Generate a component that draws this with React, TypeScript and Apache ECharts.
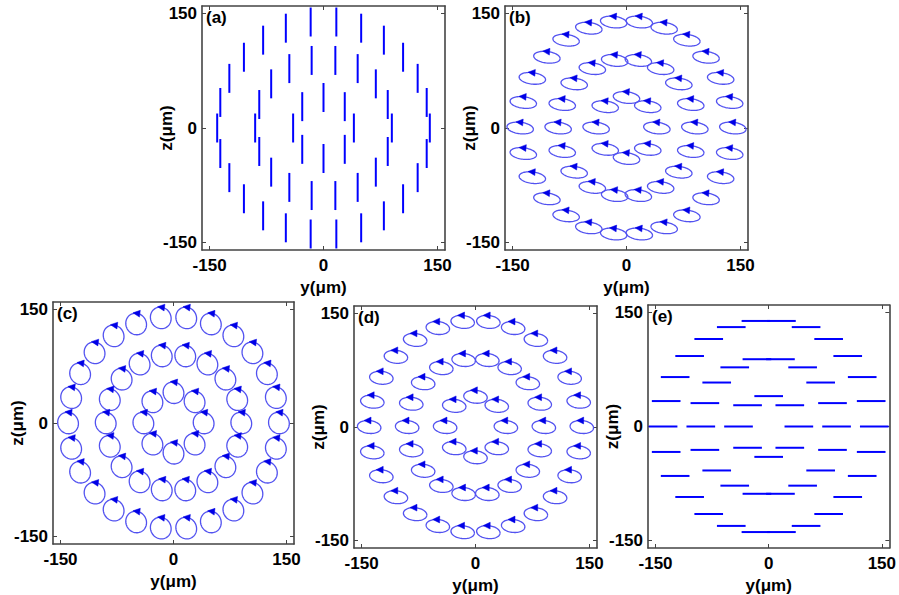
import React, { useEffect, useRef } from "react";
import * as echarts from "echarts";

// ---------- data ----------
const TICKS = [-150, 0, 150];
const AXIS_MIN = -160;
const AXIS_MAX = 160;
const PANEL_LABELS = ["(a)", "(b)", "(c)", "(d)", "(e)"];
const X_NAME = "y(μm)";
const Y_NAME = "z(μm)";

// sample positions [y, z] in μm
const INNER_RING = [
  [40, 0], [28, 28], [0, 40], [-28, 28], [-40, 0], [-28, -28], [0, -40], [28, -28],
];
const MIDDLE_RING = [
  [90, 0], [84.6, 30.8], [68.9, 57.9], [45, 77.9], [15.6, 88.6], [-15.6, 88.6],
  [-45, 77.9], [-68.9, 57.9], [-84.6, 30.8], [-90, 0], [-84.6, -30.8], [-68.9, -57.9],
  [-45, -77.9], [-15.6, -88.6], [15.6, -88.6], [45, -77.9], [68.9, -57.9], [84.6, -30.8],
];
const OUTER_RING = [
  [140, 0], [135.9, 33.5], [124, 65.1], [104.8, 92.8], [79.5, 115.2], [49.6, 130.9],
  [16.9, 139], [-16.9, 139], [-49.6, 130.9], [-79.5, 115.2], [-104.8, 92.8], [-124, 65.1],
  [-135.9, 33.5], [-140, 0], [-135.9, -33.5], [-124, -65.1], [-104.8, -92.8], [-79.5, -115.2],
  [-49.6, -130.9], [-16.9, -139], [16.9, -139], [49.6, -130.9], [79.5, -115.2], [104.8, -92.8],
  [124, -65.1], [135.9, -33.5],
];

// polarization state per panel (semi-axes in μm, tilt in degrees)
const POL_KIND = ["lineV", "ellipse", "ellipse", "ellipse", "lineH"];
const SEMI_Y = [0, 17.5, 13.5, 15.5, 19];
const SEMI_Z = [19, 7.5, 14.5, 8.5, 0];
const TILT = [0, 7, -30, 6, 0];
const ARROW_AT = [0, 95, 55, 100, 0];

// ---------- layout ----------
const GRIDS = [
  { left: 202, top: 6, width: 243, height: 244 },
  { left: 505, top: 6, width: 243, height: 244 },
  { left: 53, top: 302, width: 241, height: 242 },
  { left: 354, top: 306, width: 243, height: 242 },
  { left: 648, top: 305, width: 243, height: 243 },
];

const FONT = "'Liberation Sans', Arial, sans-serif";
const FRAME = "#444444";

function makeRender(i: number) {
  return (params: any, api: any) => {
    const c = api.coord([api.value(0), api.value(1)]);
    const s = api.size([1, 1]);
    const sx = s[0];
    const sy = s[1];
    const kind = POL_KIND[i];
    if (kind === "lineV") {
      const h = SEMI_Z[i] * sy;
      return {
        type: "line",
        shape: { x1: c[0], y1: c[1] - h, x2: c[0], y2: c[1] + h },
        style: { stroke: "#0000ff", lineWidth: 2 },
      };
    }
    if (kind === "lineH") {
      const w = SEMI_Y[i] * sx;
      return {
        type: "line",
        shape: { x1: c[0] - w, y1: c[1], x2: c[0] + w, y2: c[1] },
        style: { stroke: "#0000ff", lineWidth: 2 },
      };
    }
    const a = SEMI_Y[i] * sx;
    const b = SEMI_Z[i] * sy;
    const phi = (TILT[i] * Math.PI) / 180;
    const cp = Math.cos(phi);
    const sp = Math.sin(phi);
    const rot = (x: number, y: number) => [x * cp - y * sp, x * sp + y * cp];
    const pts: number[][] = [];
    for (let k = 0; k <= 72; k++) {
      const t = (k / 72) * Math.PI * 2;
      const r = rot(a * Math.cos(t), -b * Math.sin(t));
      pts.push([c[0] + r[0], c[1] + r[1]]);
    }
    const t0 = (ARROW_AT[i] * Math.PI) / 180;
    const p = rot(a * Math.cos(t0), -b * Math.sin(t0));
    const P = [c[0] + p[0], c[1] + p[1]];
    const d = rot(-a * Math.sin(t0), -b * Math.cos(t0));
    const len = Math.hypot(d[0], d[1]) || 1;
    const T = [d[0] / len, d[1] / len];
    const N = [-T[1], T[0]];
    const tip = [P[0] + T[0] * 3.8, P[1] + T[1] * 3.8];
    const base = [P[0] - T[0] * 3.2, P[1] - T[1] * 3.2];
    const b1 = [base[0] + N[0] * 3.4, base[1] + N[1] * 3.4];
    const b2 = [base[0] - N[0] * 3.4, base[1] - N[1] * 3.4];
    return {
      type: "group",
      children: [
        {
          type: "polyline",
          shape: { points: pts },
          style: { stroke: "#5252f0", lineWidth: 1.3, fill: "none" },
        },
        {
          type: "polygon",
          shape: { points: [tip, b1, b2] },
          style: { fill: "#0000e6", stroke: "#0000e6", lineWidth: 0.5 },
        },
      ],
    };
  };
}

export default function App() {
  const ref = useRef<HTMLDivElement>(null);
  useEffect(() => {
    if (!ref.current) return;
    const chart = echarts.init(ref.current, undefined, { renderer: "svg" });
    const labelStyle = {
      fontSize: 17,
      fontWeight: "bold",
      fontFamily: FONT,
      color: "#000",
    };
    const allCenters = [...INNER_RING, ...MIDDLE_RING, ...OUTER_RING];
    const xAxis: any[] = [];
    const yAxis: any[] = [];
    const series: any[] = [];
    const graphic: any[] = [];
    GRIDS.forEach((g, i) => {
      const common = {
        gridIndex: i,
        type: "value",
        min: AXIS_MIN,
        max: AXIS_MAX,
        splitLine: { show: false },
        axisLine: { show: true, onZero: false, lineStyle: { color: FRAME, width: 1.6 } },
        axisTick: {
          show: true,
          inside: true,
          length: 4,
          customValues: TICKS,
          lineStyle: { color: FRAME, width: 1 },
        },
      };
      xAxis.push({
        ...common,
        position: "bottom",
        axisLabel: { ...labelStyle, customValues: TICKS, margin: 6, lineHeight: 18 },
        name: X_NAME,
        nameLocation: "middle",
        nameGap: 28,
        nameMoveOverlap: false,
        nameTextStyle: { ...labelStyle, lineHeight: 18 },
      });
      xAxis.push({
        ...common,
        position: "top",
        axisLabel: { show: false },
      });
      yAxis.push({
        ...common,
        position: "left",
        axisLabel: { ...labelStyle, customValues: TICKS, margin: 5 },
        name: Y_NAME,
        nameLocation: "middle",
        nameGap: 27,
        nameRotate: 90,
        nameMoveOverlap: false,
        nameTextStyle: labelStyle,
      });
      yAxis.push({
        ...common,
        position: "right",
        axisLabel: { show: false },
      });
      series.push({
        type: "custom",
        coordinateSystem: "cartesian2d",
        xAxisIndex: 2 * i,
        yAxisIndex: 2 * i,
        data: allCenters,
        renderItem: makeRender(i),
        clip: false,
        silent: true,
      });
      graphic.push({
        type: "text",
        left: g.left + 4,
        top: g.top + 3,
        style: {
          text: PANEL_LABELS[i],
          fontSize: 17,
          fontWeight: "bold",
          fontFamily: FONT,
          fill: "#000",
        },
      });
    });
    chart.setOption({
      animation: false,
      backgroundColor: "#ffffff",
      grid: GRIDS.map((g) => ({ ...g, containLabel: false })),
      xAxis,
      yAxis,
      series,
      graphic,
    });
    return () => chart.dispose();
  }, []);
  return (
    <div
      ref={ref}
      style={{ position: "absolute", left: 0, top: 0, width: 899, height: 595 }}
    />
  );
}
